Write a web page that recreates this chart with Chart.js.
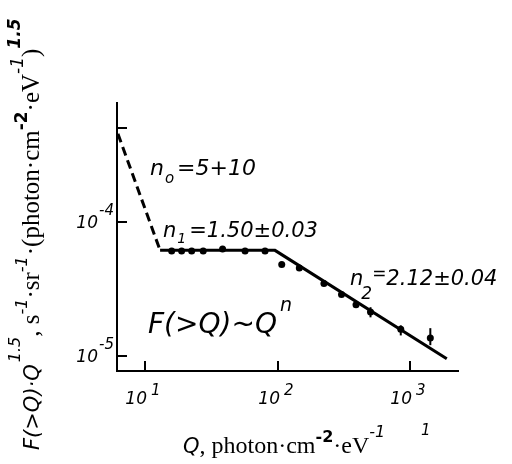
<!DOCTYPE html>
<html><head><meta charset="utf-8">
<script src="https://cdn.jsdelivr.net/npm/chart.js@4/dist/chart.umd.min.js"></script>
<style>html,body{margin:0;padding:0;background:#fff}#wrap{width:512px;height:464px}</style>
</head><body><div id="wrap"><canvas id="c" width="512" height="464"></canvas></div>
<script>
// observed points
const obsQ = [15.9, 18.9, 22.5, 27.5, 38.5, 56.9, 80.5, 107.6, 146, 224, 304, 391, 503, 851, 1422];
const obsF = [6.08e-5, 6.08e-5, 6.08e-5, 6.08e-5, 6.29e-5, 6.08e-5, 6.08e-5, 4.83e-5, 4.54e-5, 3.49e-5, 2.88e-5, 2.42e-5, 2.14e-5, 1.59e-5, 1.37e-5];
const errHigh = [null, null, null, null, null, null, null, null, null, null, null, null, 2.32e-5, 1.70e-5, 1.62e-5];
const errLow  = [null, null, null, null, null, null, null, null, null, null, null, null, 1.95e-5, 1.43e-5, 1.21e-5];
// fitted power laws
const fitDashQ = [6.25, 13.0];
const fitDashF = [4.54e-4, 6.15e-5];
const fitSolidQ = [13.0, 95.7, 1893];
const fitSolidF = [6.15e-5, 6.15e-5, 9.6e-6];
// ticks
const xTickValues = [10, 100, 1000];
const xTickExps = ['1', '2', '3'];
const yTickValues = [1e-5, 1e-4, 5e-4];
const yTickExps = ['-5', '-4', null];

const pts = (xs, ys) => xs.map((x, i) => ({x: x, y: ys[i]}));
const SANS_I = (s) => `italic ${s}px 'DejaVu Sans'`;
const SERIF = (s) => `${s}px 'Liberation Serif'`;

function drawRuns(ctx, x, y, runs) {
  for (const r of runs) {
    ctx.font = r.f;
    ctx.fillText(r.t, x + (r.dx || 0), y + (r.dy || 0));
    x += ctx.measureText(r.t).width + (r.dx || 0) + (r.gap || 0);
  }
  return x;
}

const decor = {
  id: 'decor',
  afterDatasetsDraw(chart) {
    const ctx = chart.ctx, xs = chart.scales.x, ys = chart.scales.y;
    ctx.save();
    ctx.strokeStyle = '#000';
    ctx.lineWidth = 2;
    for (let i = 0; i < obsQ.length; i++) {
      if (errHigh[i] == null) continue;
      const px = xs.getPixelForValue(obsQ[i]);
      ctx.beginPath();
      ctx.moveTo(px, ys.getPixelForValue(errHigh[i]));
      ctx.lineTo(px, ys.getPixelForValue(errLow[i]));
      ctx.stroke();
    }
    ctx.restore();
  },
  afterDraw(chart) {
    const ctx = chart.ctx, xs = chart.scales.x, ys = chart.scales.y, a = chart.chartArea;
    ctx.save();
    ctx.fillStyle = '#000';
    ctx.strokeStyle = '#000';
    ctx.lineWidth = 2;
    // inward ticks
    xTickValues.forEach((v, i) => {
      const px = Math.round(xs.getPixelForValue(v));
      ctx.beginPath(); ctx.moveTo(px, a.bottom); ctx.lineTo(px, a.bottom - 10); ctx.stroke();
      ctx.textBaseline = 'alphabetic';
      ctx.textAlign = 'right';
      ctx.font = SANS_I(17);
      ctx.fillText('10', px + 2, 404);
      ctx.textAlign = 'left';
      ctx.font = SANS_I(15);
      ctx.fillText(xTickExps[i], px + 6, 395);
    });
    yTickValues.forEach((v, i) => {
      const py = Math.round(ys.getPixelForValue(v));
      ctx.beginPath(); ctx.moveTo(a.left, py); ctx.lineTo(a.left + 10, py); ctx.stroke();
      if (yTickExps[i] == null) return;
      ctx.textAlign = 'right';
      ctx.font = SANS_I(17);
      ctx.fillText('10', 98, py + 6);
      ctx.textAlign = 'left';
      ctx.font = SANS_I(15);
      ctx.fillText(yTickExps[i], 99, py - 7);
    });
    ctx.textAlign = 'left';
    // annotations
    drawRuns(ctx, 150, 175, [
      {t: 'n', f: SANS_I(22)}, {t: 'o', f: SANS_I(15), dy: 8, dx: 1}, {t: '=5+10', f: SANS_I(22), dx: 3}
    ]);
    drawRuns(ctx, 163, 237, [
      {t: 'n', f: SANS_I(21)}, {t: '1', f: SANS_I(14), dy: 6, dx: 1}, {t: '=1.50\u00b10.03', f: SANS_I(21), dx: 3}
    ]);
    drawRuns(ctx, 350, 285, [
      {t: 'n', f: SANS_I(21)}, {t: '2', f: SANS_I(17), dy: 14, dx: -2}, {t: '=', f: SANS_I(17), dy: -6}, {t: '2.12\u00b10.04', f: SANS_I(21)}
    ]);
    drawRuns(ctx, 148, 333, [
      {t: 'F(>Q)~Q', f: SANS_I(28)}, {t: 'n', f: SANS_I(19), dy: -22, dx: 3}
    ]);
    // x title
    drawRuns(ctx, 183, 453, [
      {t: 'Q', f: SANS_I(21)}, {t: ', photon\u00b7cm', f: SERIF(24)},
      {t: '-2', f: `bold 16px 'DejaVu Sans'`, dy: -11}, {t: '\u00b7eV', f: SERIF(24)},
      {t: '-1', f: SANS_I(16), dy: -16}
    ]);
    ctx.font = SANS_I(15);
    ctx.fillText('1', 421, 435);
    // y title (rotated)
    ctx.translate(39, 450);
    ctx.rotate(-Math.PI / 2);
    drawRuns(ctx, 0, 0, [
      {t: 'F(>Q)\u00b7Q', f: SANS_I(21)}, {t: '1.5', f: SANS_I(16), dy: -19, dx: 2},
      {t: ', s', f: SERIF(25)}, {t: '-1', f: SANS_I(16), dy: -12},
      {t: '\u00b7sr', f: SERIF(25)}, {t: '-1', f: SANS_I(16), dy: -12, gap: 1},
      {t: '\u00b7(photon\u00b7cm', f: SERIF(25)}, {t: '-2', f: `bold 17px 'DejaVu Sans'`, dy: -12},
      {t: '\u00b7eV', f: SERIF(25)}, {t: '-1', f: SANS_I(17), dy: -16},
      {t: ')', f: SERIF(25)}, {t: '1.5', f: `bold italic 17px 'DejaVu Sans'`, dy: -19}
    ]);
    ctx.restore();
  }
};

new Chart(document.getElementById('c'), {
  type: 'scatter',
  data: {
    datasets: [
      {data: pts(fitDashQ, fitDashF), showLine: true, borderColor: '#000', borderWidth: 3, borderDash: [9, 5], pointRadius: 0, fill: false},
      {data: pts(fitSolidQ, fitSolidF), showLine: true, borderColor: '#000', borderWidth: 3, pointRadius: 0, fill: false},
      {data: pts(obsQ, obsF), showLine: false, pointRadius: 3.5, pointBackgroundColor: '#000', pointBorderWidth: 0, borderColor: '#000'}
    ]
  },
  options: {
    responsive: false,
    animation: false,
    events: [],
    layout: {padding: {left: 117, top: 103, right: 54, bottom: 93}},
    plugins: {legend: {display: false}, tooltip: {enabled: false}},
    scales: {
      x: {
        type: 'logarithmic', min: 6.15, max: 2300,
        ticks: {display: false},
        grid: {display: false, drawTicks: false},
        border: {display: true, color: '#000', width: 2},
        afterFit(s) { s.height = 0; }
      },
      y: {
        type: 'logarithmic', min: 7.77e-6, max: 7.7e-4,
        ticks: {display: false},
        grid: {display: false, drawTicks: false},
        border: {display: true, color: '#000', width: 2},
        afterFit(s) { s.width = 0; }
      }
    }
  },
  plugins: [decor]
});
</script>
</body></html>
